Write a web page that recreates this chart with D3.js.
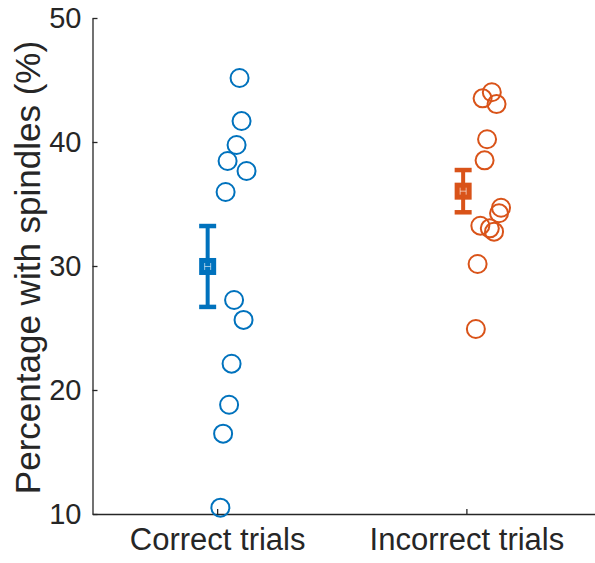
<!DOCTYPE html>
<html>
<head>
<meta charset="utf-8">
<script src="https://cdn.jsdelivr.net/npm/d3@7/dist/d3.min.js"></script>
<style>
  html, body { margin: 0; padding: 0; background: #fff; }
  svg { display: block; }
  text { font-family: "Liberation Sans", Arial, Helvetica, sans-serif; fill: #262626; }
</style>
</head>
<body>
<svg id="chart" width="595" height="563"></svg>
<script>
// Groups shown on the x axis (positions 1 and 2)
const categories = ["Correct trials", "Incorrect trials"];

// Per-subject percentages and their jittered x positions
const correctValues = [45.16, 41.69, 39.76, 38.47, 37.66, 35.97, 27.26, 25.65, 22.12, 18.81, 16.48, 10.51];
const correctX      = [1.090, 1.098, 1.078, 1.042, 1.118, 1.034, 1.068, 1.106, 1.058, 1.048, 1.024, 1.013];
const incorrectValues = [44.01, 43.52, 43.06, 40.22, 38.52, 34.70, 34.25, 33.25, 33.04, 32.77, 30.16, 24.92];
const incorrectX      = [2.102, 2.065, 2.121, 2.083, 2.073, 2.139, 2.131, 2.056, 2.094, 2.111, 2.045, 2.038];

// Where the group mean ± SEM marker sits on the x axis
const meanX = [0.962, 1.987];

const yTicks = [10, 20, 30, 40, 50];
const colors = ["#0072BD", "#D95319"];

const groups = [
  { name: categories[0], values: correctValues, xs: correctX, mx: meanX[0], color: colors[0] },
  { name: categories[1], values: incorrectValues, xs: incorrectX, mx: meanX[1], color: colors[1] }
];
groups.forEach(g => {
  g.mean = d3.mean(g.values);
  g.sem = d3.deviation(g.values) / Math.sqrt(g.values.length);
});

const svg = d3.select("#chart");
const x = d3.scaleLinear().domain([0.5, 2.52]).range([92.5, 596]);
const y = d3.scaleLinear().domain([10, 50]).range([514, 18]);

const axisColor = "#262626";

// Y axis (ticks pointing inward)
const yAxis = svg.append("g")
  .attr("transform", `translate(${x(0.5)},0)`)
  .call(d3.axisLeft(y).tickValues(yTicks).tickSizeInner(-5).tickSizeOuter(0).tickPadding(11));
yAxis.select(".domain").attr("stroke", axisColor).attr("stroke-width", 1.3);
yAxis.selectAll(".tick line").attr("stroke", axisColor).attr("stroke-width", 1.3);
yAxis.selectAll(".tick text")
  .attr("font-size", 29)
  .attr("fill", "#262626")
  .style("font-family", "'Liberation Sans', Arial, sans-serif");

// X axis (ticks pointing inward)
const xAxis = svg.append("g")
  .attr("transform", `translate(0,${y(10)})`)
  .call(d3.axisBottom(x).tickValues([1, 2]).tickFormat((d, i) => categories[i])
    .tickSizeInner(-5).tickSizeOuter(0).tickPadding(14));
xAxis.select(".domain").attr("stroke", axisColor).attr("stroke-width", 1.3);
xAxis.selectAll(".tick line").attr("stroke", axisColor).attr("stroke-width", 1.3);
xAxis.selectAll(".tick text")
  .attr("font-size", 31)
  .attr("fill", "#262626")
  .style("font-family", "'Liberation Sans', Arial, sans-serif");

// Y axis title
svg.append("text")
  .attr("transform", `translate(40,${(y(10) + y(50)) / 2 + 1.5}) rotate(-90)`)
  .attr("text-anchor", "middle")
  .attr("font-size", 35)
  .text("Percentage with spindles (%)");

// Individual subjects: open circles
groups.forEach(g => {
  svg.append("g").selectAll("circle")
    .data(g.values.map((v, i) => ({ v, xv: g.xs[i] })))
    .join("circle")
    .attr("cx", d => x(d.xv))
    .attr("cy", d => y(d.v))
    .attr("r", 9)
    .attr("fill", "none")
    .attr("stroke", g.color)
    .attr("stroke-width", 2);
});

// Group mean with SEM error bar
groups.forEach(g => {
  const gm = svg.append("g");
  const cx = x(g.mx);
  const capW = 17;
  const top = y(g.mean + g.sem), bot = y(g.mean - g.sem);
  gm.append("line")
    .attr("x1", cx).attr("x2", cx).attr("y1", top).attr("y2", bot)
    .attr("stroke", g.color).attr("stroke-width", 4);
  [top, bot].forEach(yy => {
    gm.append("line")
      .attr("x1", cx - capW / 2).attr("x2", cx + capW / 2)
      .attr("y1", yy).attr("y2", yy)
      .attr("stroke", g.color).attr("stroke-width", 4.5);
  });
  const s = 17, cy = y(g.mean);
  gm.append("rect")
    .attr("x", cx - s / 2).attr("y", cy - s / 2)
    .attr("width", s).attr("height", s)
    .attr("fill", g.color);
  // small inner error glyph
  gm.append("path")
    .attr("d", `M${cx - 3},${cy - 3.5}V${cy + 3.5}M${cx + 3},${cy - 3.5}V${cy + 3.5}M${cx - 3},${cy}H${cx + 3}`)
    .attr("stroke", "rgba(255,255,255,0.6)")
    .attr("stroke-width", 1)
    .attr("fill", "none");
});
</script>
</body>
</html>
